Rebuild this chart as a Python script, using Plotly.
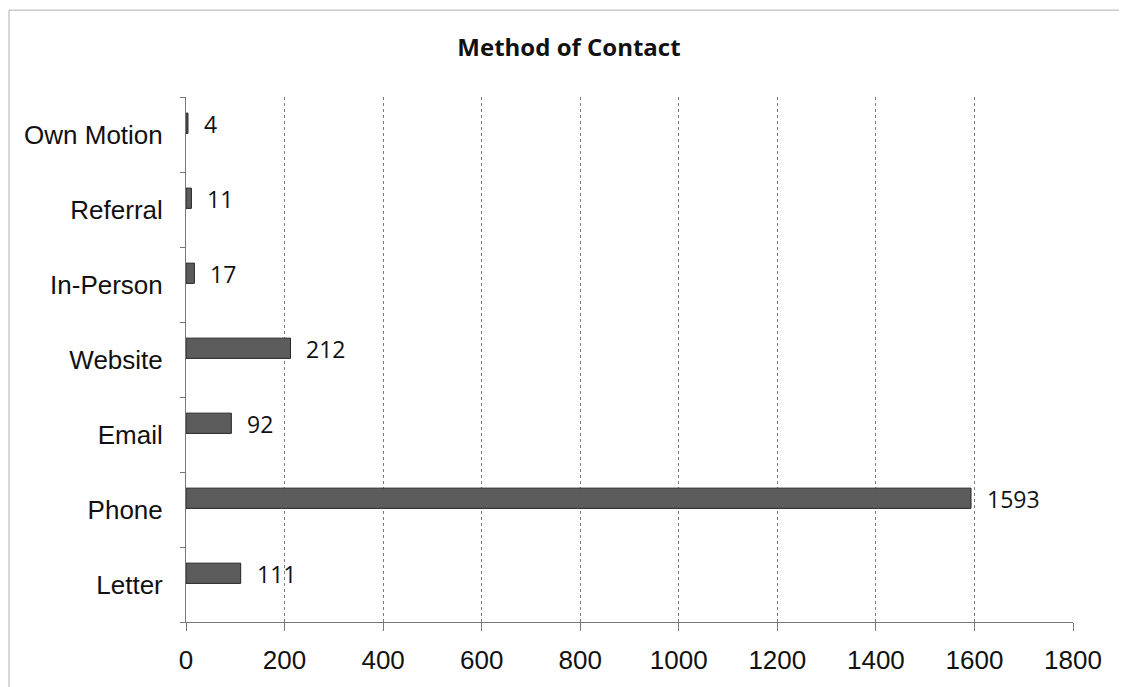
import plotly.graph_objects as go

categories = ["Letter", "Phone", "Email", "Website", "In-Person", "Referral", "Own Motion"]
values = [111, 1593, 92, 212, 17, 11, 4]
x_ticks = [0, 200, 400, 600, 800, 1000, 1200, 1400, 1600, 1800]
title_text = "Method of Contact"

W, H = 1119, 679
L, R, T, B = 178, 54, 89, 58
PW, PH = W - L - R, H - T - B

fig = go.Figure()
fig.add_trace(go.Bar(
    x=values, y=categories, orientation="h",
    width=0.27, offset=0.015,
    marker=dict(color="#5c5c5c", line=dict(color="#262626", width=1)),
    hoverinfo="x+y",
))

for v, c in zip(values, categories):
    fig.add_annotation(
        x=v, y=c, text=str(v), showarrow=False,
        xanchor="left", yanchor="middle", xshift=14, yshift=11,
        font=dict(family="Open Sans", size=23, color="#111111"),
    )

fig.update_layout(
    width=W, height=H,
    margin=dict(l=L, r=R, t=T, b=B),
    paper_bgcolor="white", plot_bgcolor="white",
    showlegend=False,
    title=dict(text="<b>" + title_text + "</b>", x=(569 - 8) / W, xanchor="center",
               y=1 - (48 - 8) / H, yanchor="middle",
               font=dict(family="Open Sans", size=24, color="#111111")),
    xaxis=dict(
        range=[0, 1800], tickvals=x_ticks, ticktext=[str(t) for t in x_ticks],
        showgrid=True, gridcolor="#7a7a7a", gridwidth=1, griddash="dot",
        showline=True, linecolor="#777777", linewidth=1,
        ticks="outside", ticklen=8, tickcolor="#777777",
        zeroline=False,
        tickfont=dict(family="Liberation Sans", size=26, color="#111111"),
        ticklabelstandoff=7,
        fixedrange=True,
    ),
    yaxis=dict(
        categoryorder="array", categoryarray=categories,
        range=[-0.5, 6.5],
        showgrid=False, showline=True, linecolor="#777777", linewidth=1,
        ticks="outside", ticklen=5, tickcolor="#777777", tickson="boundaries",
        tickfont=dict(family="Liberation Sans", size=26, color="#111111"),
        ticklabelstandoff=17,
        zeroline=False,
        fixedrange=True,
    ),
    shapes=[
        dict(type="line", xref="paper", yref="paper",
             x0=-(L - 1) / PW, x1=-(L - 1) / PW, y0=-2, y1=1 + (T - 1) / PH,
             line=dict(color="#b0b0b0", width=1)),
        dict(type="line", xref="paper", yref="paper",
             x0=-(L - 1) / PW, x1=(W - L) / PW, y0=1 + (T - 1) / PH, y1=1 + (T - 1) / PH,
             line=dict(color="#b0b0b0", width=1)),
    ],
)

fig.write_html("out.html")
